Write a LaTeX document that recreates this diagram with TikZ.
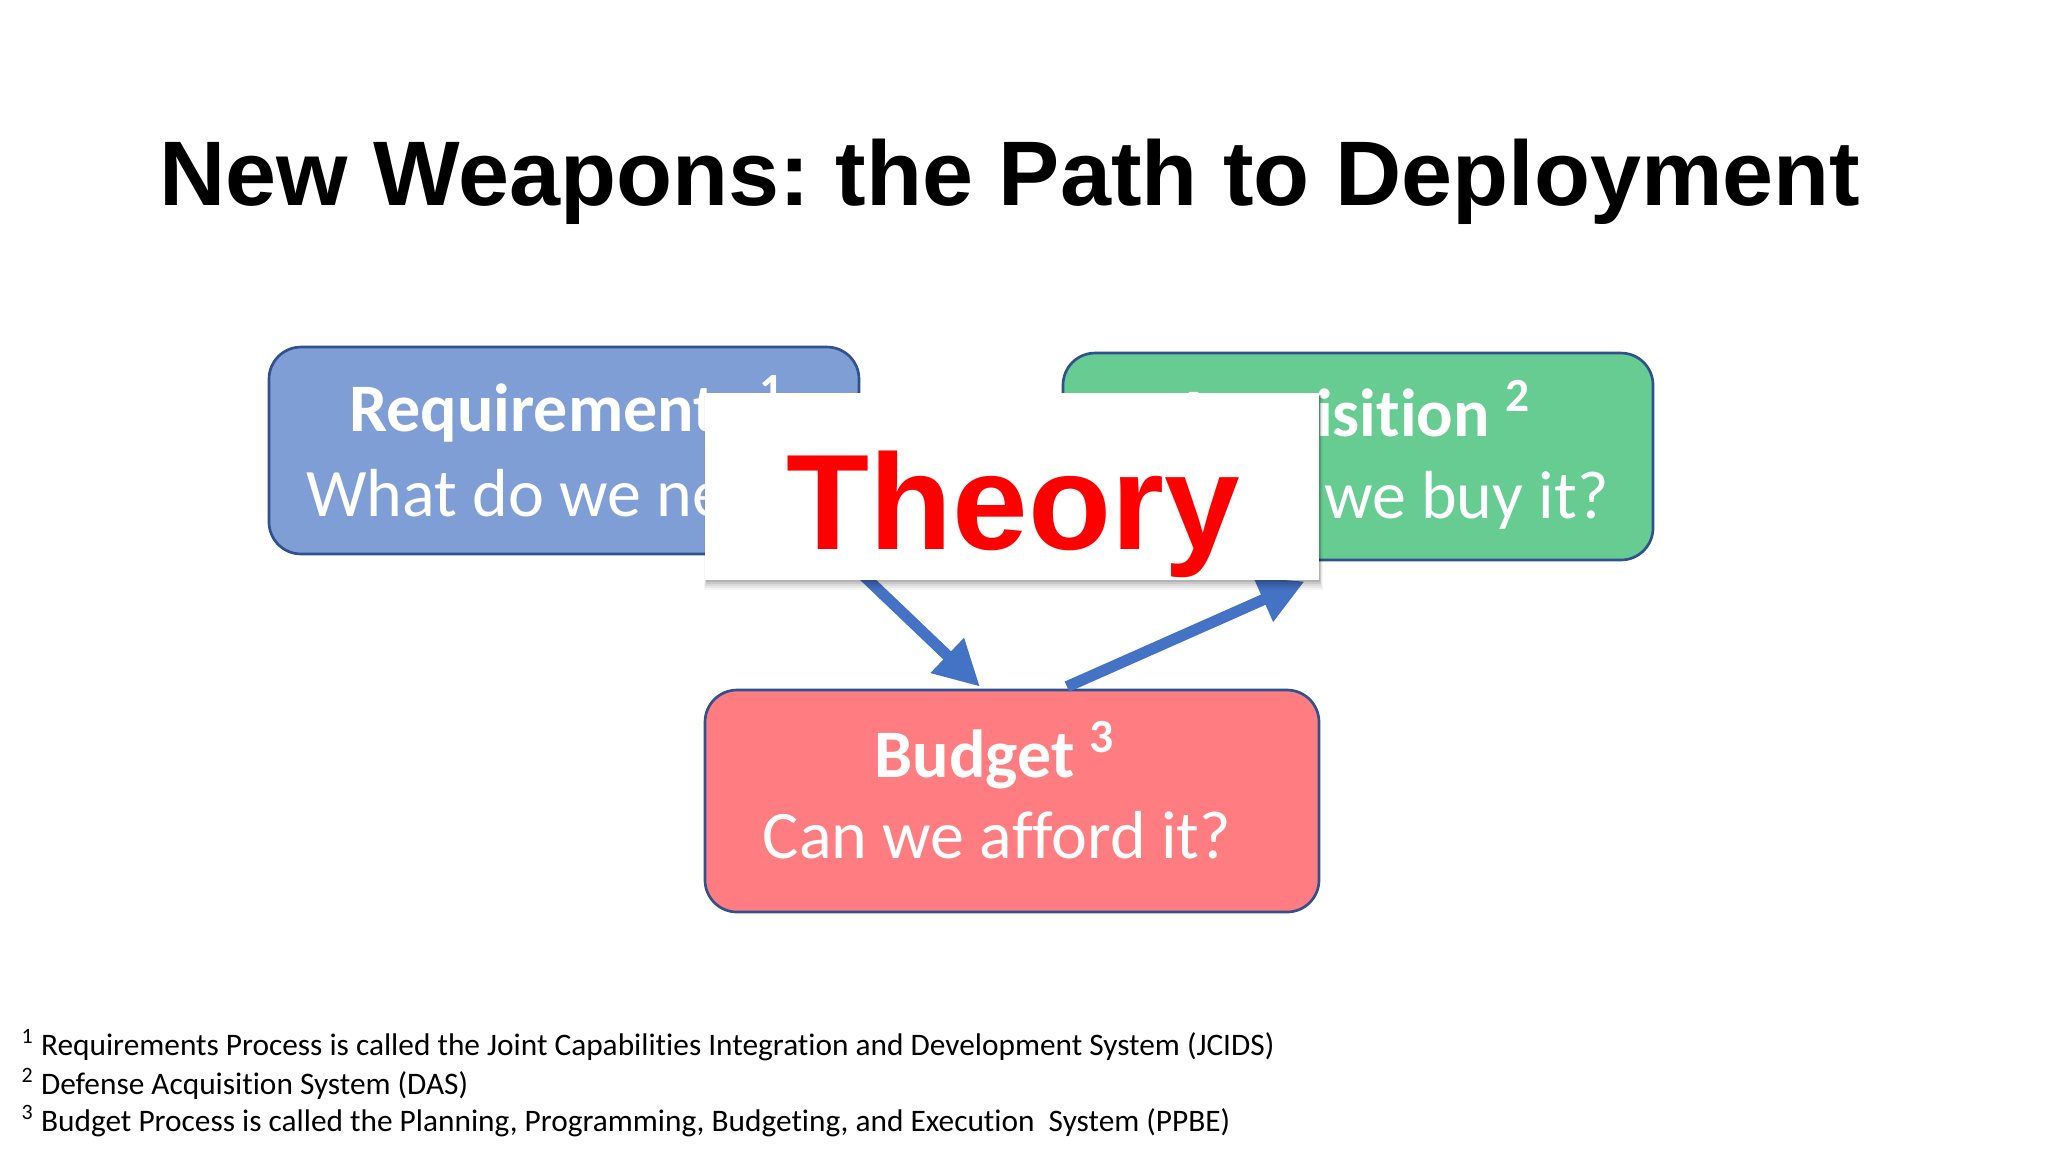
\documentclass[tikz,border=0pt]{standalone}
\usepackage{fontspec}
\setmainfont{Carlito}[Ligatures=NoCommon]
\newfontfamily\arialfont{Liberation Sans}
\usetikzlibrary{arrows.meta,calc}
\frenchspacing
\definecolor{reqblue}{RGB}{127,158,214}
\definecolor{acqgreen}{RGB}{102,204,146}
\definecolor{budred}{RGB}{255,124,128}
\definecolor{edgeblue}{RGB}{47,82,143}
\definecolor{arrowblue}{RGB}{68,114,196}
\definecolor{theoryred}{RGB}{255,0,0}
\tikzset{
  procbox/.style={draw=edgeblue, line width=1pt, rounded corners=12pt, inner sep=0pt},
  boxhead/.style={text=white, font=\bfseries\fontsize{25.5}{30}\selectfont, anchor=base},
  boxsub/.style={text=white, font=\fontsize{25.5}{30}\selectfont, anchor=base},
  flow/.style={draw=arrowblue, line width=4.2pt, -{Triangle[length=17pt,width=17pt]}},
  footnote/.style={font=\fontsize{11.75}{14}\selectfont, anchor=base west, inner sep=0pt},
}
\begin{document}
\begin{tikzpicture}[x=0.375pt,y=-0.375pt]
\useasboundingbox[fill=white] (0,0) rectangle (2048,1152);
% title
\node[anchor=base, font=\arialfont\bfseries\fontsize{34.4}{40}\selectfont] (title) at (1010,205) {New Weapons: the Path to Deployment};
% boxes
\node[procbox, fill=reqblue, minimum width=221.25pt, minimum height=77.6pt] (req) at (564,450.5) {};
\node[boxhead] (reqh) at (567,431) {Requirements \textsuperscript{1}};
\node[boxsub] (reqs) at (567,516) {What do we need?};
\node[procbox, fill=acqgreen, minimum width=221.25pt, minimum height=77.6pt] (acq) at (1358,456.5) {};
\node[boxhead] (acqh) at (1352,436) {Acquisition \textsuperscript{2}};
\node[boxsub] (acqs) at (1352,518) {How do we buy it?};
\node[procbox, fill=budred, minimum width=230.25pt, minimum height=83.25pt] (bud) at (1012,801) {};
\node[boxhead] (budh) at (995,777) {Budget \textsuperscript{3}};
\node[boxsub] (buds) at (997,858) {Can we afford it?};
% arrows
\draw[flow] ($(req.south east)+(-18,0)$) -- ($(bud.north)+(-32,-2)$);
\coordinate (acqin) at ($(acq.south west)+(243,20)$);
\draw[flow] ($(bud.north)+(55,-2)$) -- (acqin);
% theory overlay with soft shadow
\foreach \d/\o in {10/0.04,8/0.05,6/0.06,4/0.08,2/0.10}{
  \fill[black, opacity=\o] (707-\d*0.3,395) rectangle (1319+\d*0.4,580+\d);
}
\node[fill=white, inner sep=0pt, minimum width=230.25pt, minimum height=70.1pt] (thr) at (1012,486.5) {};
\node[anchor=base, text=theoryred, font=\arialfont\bfseries\fontsize{51}{60}\selectfont] (thrt) at (1013,549) {Theory};
% footnotes
\node[footnote] (fn1) at (21,1055) {\textsuperscript{1} Requirements Process is called the Joint Capabilities Integration and Development System (JCIDS)};
\node[footnote] (fn2) at (21,1094) {\textsuperscript{2} Defense Acquisition System (DAS)};
\node[footnote] (fn3) at (21,1131) {\textsuperscript{3} Budget Process is called the Planning, Programming, Budgeting, and Execution\ \ System (PPBE)};
\end{tikzpicture}
\end{document}
